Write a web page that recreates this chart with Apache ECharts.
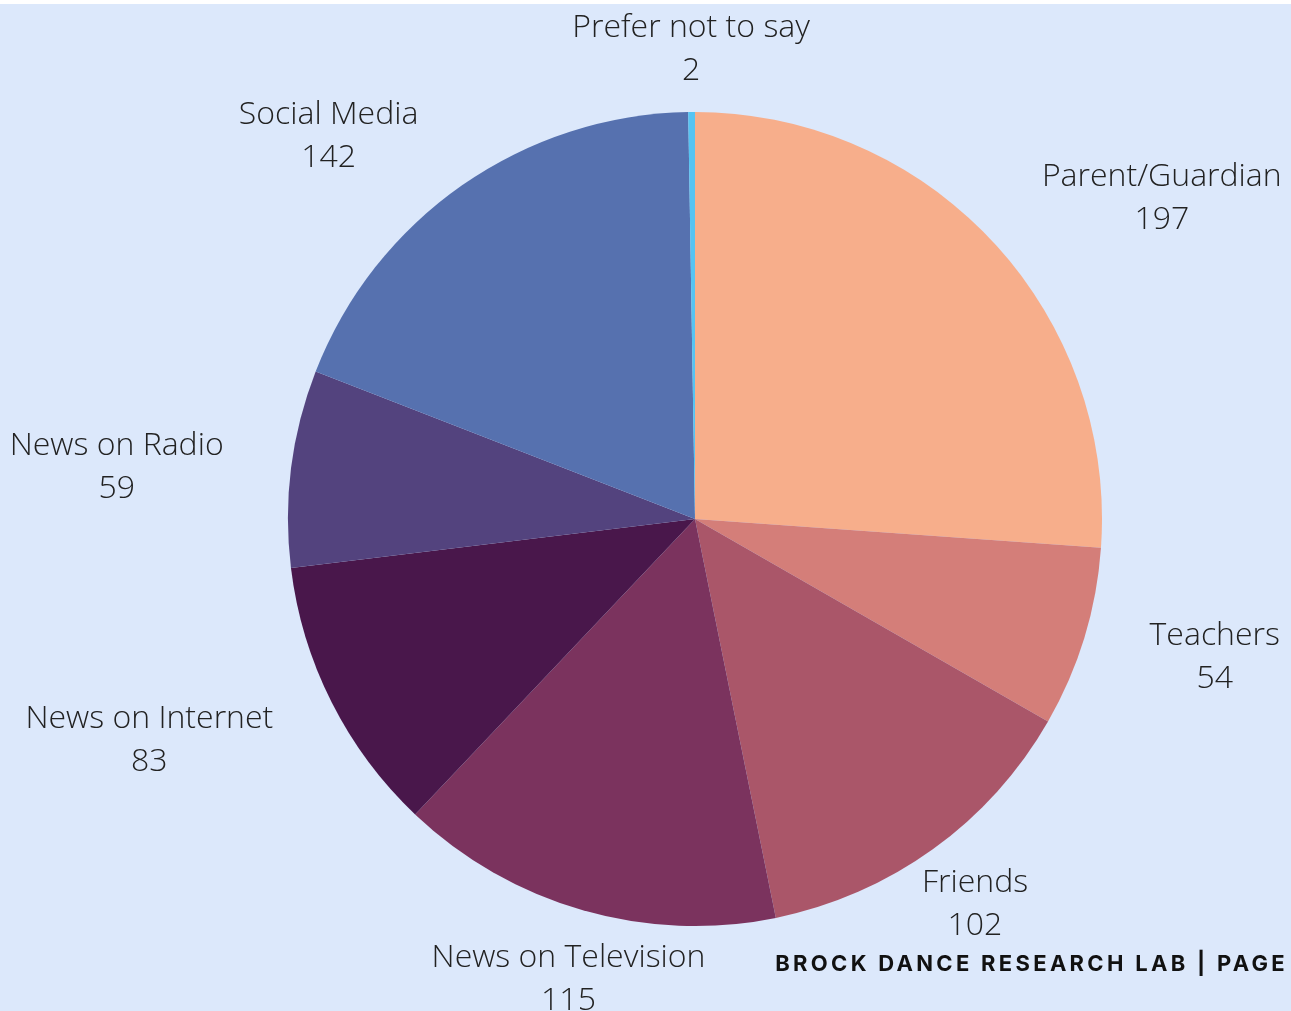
<!DOCTYPE html>
<html>
<head>
<meta charset="utf-8">
<script src="https://cdn.jsdelivr.net/npm/echarts@6/dist/echarts.min.js"></script>
<style>
  html, body { margin: 0; padding: 0; background: #ffffff; }
  #wrap { position: absolute; left: 0; top: 4px; width: 1291px; height: 1007px; background: #dce8fb; }
  #chart { position: absolute; left: 0; top: 0; width: 1291px; height: 1007px; }
  #footer {
    position: absolute; right: 3px; top: 946px;
    font-family: "Inter", "Lato", sans-serif; font-weight: 700; font-size: 22px;
    letter-spacing: 3.3px; color: #111111; white-space: nowrap;
  }
</style>
</head>
<body>
<div id="wrap">
  <div id="chart"></div>
  <div id="footer">BROCK DANCE RESEARCH LAB | PAGE</div>
</div>
<script>
// Where respondents first heard about it
const categories = [
  'Parent/Guardian', 'Teachers', 'Friends', 'News on Television',
  'News on Internet', 'News on Radio', 'Social Media', 'Prefer not to say'
];
const counts = [197, 54, 102, 115, 83, 59, 142, 2];
const sliceColors = [
  '#f7ae8b', '#d47e79', '#aa5669', '#7b335e',
  '#49174b', '#53437e', '#5671af', '#56c4f2'
];
// labels near the top/bottom of the circle are centred over their anchor
const centredLabels = ['Friends', 'News on Television', 'Prefer not to say'];
// small nudges [dx, dy] applied to the outside labels
const labelNudge = {
  'Parent/Guardian': [-2, 0],
  'Teachers': [0, 1],
  'Friends': [0, 4],
  'News on Television': [8, 9],
  'News on Internet': [3, 10],
  'News on Radio': [0, 7],
  'Social Media': [-3, 3],
  'Prefer not to say': [5, 0]
};

const chart = echarts.init(document.getElementById('chart'), null, { renderer: 'canvas' });

const labelFont = {
  fontFamily: '"Open Sans", sans-serif',
  fontWeight: 300,
  fontSize: 32,
  lineHeight: 43,
  color: '#222222',
  align: 'center'
};

chart.setOption({
  animation: false,
  backgroundColor: 'transparent',
  series: [{
    type: 'pie',
    center: [695, 515],
    radius: 407,
    startAngle: 90,
    clockwise: true,
    avoidLabelOverlap: false,
    data: categories.map((name, i) => ({
      name: name,
      value: counts[i],
      itemStyle: { color: sliceColors[i] }
    })),
    itemStyle: { borderWidth: 0 },
    label: {
      show: true,
      position: 'outside',
      formatter: '{t|{b}}\n{t|{c}}',
      fontFamily: labelFont.fontFamily,
      fontWeight: 300,
      fontSize: 32,
      lineHeight: 43,
      color: '#222222',
      rich: { t: labelFont }
    },
    labelLine: { show: false, length: 63, length2: 0 },
    labelLayout: function (params) {
      const name = categories[params.dataIndex];
      const nudge = labelNudge[name] || [0, 0];
      const out = { dx: nudge[0], dy: nudge[1] };
      if (centredLabels.indexOf(name) >= 0) {
        out.align = 'center';
      }
      return out;
    },
    emphasis: { disabled: true }
  }]
});
</script>
</body>
</html>
